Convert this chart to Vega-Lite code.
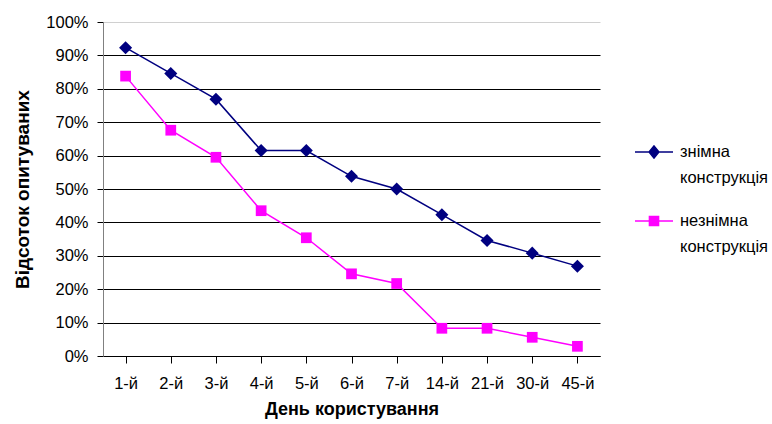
{
  "$schema": "https://vega.github.io/schema/vega-lite/v6.json",
  "width": 497,
  "height": 334,
  "autosize": {"type": "none"},
  "padding": {"left": 103, "top": 22, "right": 172, "bottom": 68},
  "background": "white",
  "config": {"font": "Liberation Sans", "view": {"stroke": null}},
  "data": {
    "values": [
      {"day": "1-й", "series": "знімна конструкція", "value": 0.923},
      {"day": "2-й", "series": "знімна конструкція", "value": 0.846},
      {"day": "3-й", "series": "знімна конструкція", "value": 0.769},
      {"day": "4-й", "series": "знімна конструкція", "value": 0.615},
      {"day": "5-й", "series": "знімна конструкція", "value": 0.615},
      {"day": "6-й", "series": "знімна конструкція", "value": 0.538},
      {"day": "7-й", "series": "знімна конструкція", "value": 0.5},
      {"day": "14-й", "series": "знімна конструкція", "value": 0.423},
      {"day": "21-й", "series": "знімна конструкція", "value": 0.346},
      {"day": "30-й", "series": "знімна конструкція", "value": 0.308},
      {"day": "45-й", "series": "знімна конструкція", "value": 0.269},
      {"day": "1-й", "series": "незнімна конструкція", "value": 0.838},
      {"day": "2-й", "series": "незнімна конструкція", "value": 0.676},
      {"day": "3-й", "series": "незнімна конструкція", "value": 0.595},
      {"day": "4-й", "series": "незнімна конструкція", "value": 0.435},
      {"day": "5-й", "series": "незнімна конструкція", "value": 0.354},
      {"day": "6-й", "series": "незнімна конструкція", "value": 0.246},
      {"day": "7-й", "series": "незнімна конструкція", "value": 0.217},
      {"day": "14-й", "series": "незнімна конструкція", "value": 0.083},
      {"day": "21-й", "series": "незнімна конструкція", "value": 0.083},
      {"day": "30-й", "series": "незнімна конструкція", "value": 0.056},
      {"day": "45-й", "series": "незнімна конструкція", "value": 0.029}
    ]
  },
  "encoding": {
    "x": {
      "field": "day",
      "type": "ordinal",
      "sort": ["1-й", "2-й", "3-й", "4-й", "5-й", "6-й", "7-й", "14-й", "21-й", "30-й", "45-й"],
      "scale": {"paddingInner": 0, "paddingOuter": 0},
      "axis": {
        "title": "День користування",
        "titleFontSize": 18,
        "titleFontWeight": "bold",
        "titleColor": "black",
        "titlePadding": 9,
        "labelAngle": 0,
        "labelFontSize": 16.5,
        "labelColor": "black",
        "labelPadding": 12,
        "tickSize": 7,
        "tickColor": "black",
        "bandPosition": 0,
        "domainColor": "black",
        "grid": false
      }
    },
    "y": {
      "field": "value",
      "type": "quantitative",
      "scale": {"domain": [0, 1], "nice": false},
      "axis": {
        "title": "Відсоток опитуваних",
        "titleFontSize": 19,
        "titleFontWeight": "bold",
        "titleColor": "black",
        "titlePadding": 13,
        "format": ".0%",
        "values": [0, 0.1, 0.2, 0.3, 0.4, 0.5, 0.6, 0.7, 0.8, 0.9, 1],
        "labelFontSize": 16.5,
        "labelColor": "black",
        "labelPadding": 9,
        "tickSize": 6,
        "tickColor": "black",
        "domainColor": "#808080",
        "grid": true,
        "gridColor": {"condition": {"test": "datum.value == 1", "value": "#d0d0d0"}, "value": "black"},
        "gridOpacity": 1
      }
    },
    "color": {
      "field": "series",
      "type": "nominal",
      "scale": {"domain": ["знімна конструкція", "незнімна конструкція"], "range": ["#000080", "#FF00FF"]},
      "legend": {
        "orient": "none",
        "legendX": 531,
        "legendY": 110,
        "title": null,
        "labelFontSize": 16.5,
        "labelColor": "black",
        "labelExpr": "split(datum.label, ' ')",
        "labelLimit": 0,
        "labelOffset": 6,
        "symbolSize": 1444,
        "rowPadding": 14,
        "encode": {
          "labels": {"update": {"lineHeight": {"value": 26}}},
          "symbols": {
            "update": {
              "shape": {"signal": "datum.value == 'знімна конструкція' ? 'M-1,0H1M0,-0.32L0.26,0L0,0.32L-0.26,0Z' : 'M-1,0H1M-0.24,-0.24H0.24V0.24H-0.24Z'"},
              "fill": {"signal": "datum.value == 'знімна конструкція' ? '#000080' : '#FF00FF'"},
              "stroke": {"signal": "datum.value == 'знімна конструкція' ? '#000080' : '#FF00FF'"},
              "strokeWidth": {"value": 1.5},
              "opacity": {"value": 1}
            }
          }
        }
      }
    }
  },
  "layer": [
    {"mark": {"type": "line", "strokeWidth": 1.5}},
    {
      "transform": [{"filter": "datum.series == 'знімна конструкція'"}],
      "mark": {"type": "point", "shape": "diamond", "filled": true, "opacity": 1, "size": 170}
    },
    {
      "transform": [{"filter": "datum.series == 'незнімна конструкція'"}],
      "mark": {"type": "point", "shape": "square", "filled": true, "opacity": 1, "size": 115}
    }
  ]
}
